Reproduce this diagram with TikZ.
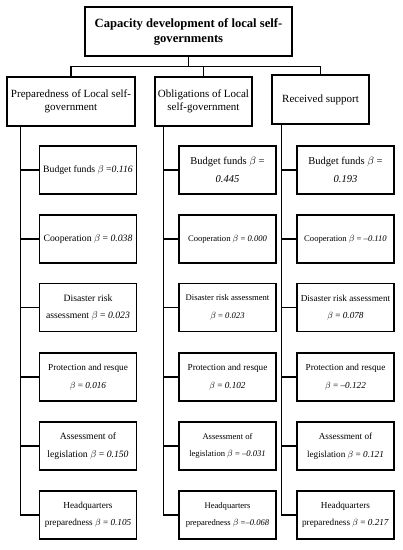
\documentclass[tikz,border=0pt]{standalone}
\usepackage{fontspec}
\setmainfont{Liberation Serif}
\begin{document}
\begin{tikzpicture}[x=1pt,y=-1pt,
  box/.style={draw,line width=1.1pt,rectangle,align=center,inner sep=1pt},
  top/.style={box,minimum width=207pt,minimum height=49pt,font=\fontsize{12.6}{15}\selectfont\bfseries},
  lvl/.style={box,minimum width=97pt,minimum height=49pt,font=\fontsize{11}{13.5}\selectfont},
  leaf/.style={box,minimum width=97pt,minimum height=48pt,font=\fontsize{9.7}{17.5}\selectfont},
  sm/.style={font=\fontsize{9.2}{17.5}\selectfont},
  xs/.style={font=\fontsize{8.6}{17.5}\selectfont},
  conn/.style={line width=1.1pt}]
\useasboundingbox (0,0) rectangle (403,550);
\newcommand{\bv}[1]{$\beta$ = \textit{#1}}
% top
\node[top] (T) at (188.5,31.5) {Capacity development of local self-\\governments};
% level 2
\node[lvl,minimum width=128pt] (A) at (71,101.5) {Preparedness of Local self-\\government};
\node[lvl] (B) at (203.5,101.5) {Obligations of Local\\self-government};
\node[lvl] (C) at (320.5,99.5) {Received support};
% column A
\node[leaf] (A1) at (88,170) {Budget funds $\beta$ =\textit{0.116}};
\node[leaf] (A2) at (88,239) {Cooperation \bv{0.038}};
\node[leaf] (A3) at (88,307.5) {Disaster risk\\assessment \bv{0.023}};
\node[leaf,sm] (A4) at (88,377) {Protection and resque\\\bv{0.016}};
\node[leaf] (A5) at (88,446) {Assessment of\\legislation \bv{0.150}};
\node[leaf,sm] (A6) at (88,515) {Headquarters\\preparedness \bv{0.105}};
% column B
\node[leaf,font=\fontsize{10.5}{18}\selectfont] (B1) at (227.5,170) {Budget funds $\beta$ =\\\textit{0.445}};
\node[leaf,xs] (B2) at (227.5,239) {Cooperation \bv{0.000}};
\node[leaf,xs] (B3) at (227.5,307.5) {Disaster risk assessment\\\bv{0.023}};
\node[leaf,sm] (B4) at (227.5,377) {Protection and resque\\\bv{0.102}};
\node[leaf,xs] (B5) at (227.5,446) {Assessment of\\legislation \bv{--0.031}};
\node[leaf,xs] (B6) at (227.5,515) {Headquarters\\preparedness $\beta$ =\textit{--0.068}};
% column C
\node[leaf,font=\fontsize{10.5}{18}\selectfont] (C1) at (345.5,170) {Budget funds $\beta$ =\\\textit{0.193}};
\node[leaf,xs] (C2) at (345.5,239) {Cooperation \bv{--0.110}};
\node[leaf,sm] (C3) at (345.5,307.5) {Disaster risk assessment\\\bv{0.078}};
\node[leaf,sm] (C4) at (345.5,377) {Protection and resque\\\bv{--0.122}};
\node[leaf,sm] (C5) at (345.5,446) {Assessment of\\legislation \bv{0.121}};
\node[leaf,sm] (C6) at (345.5,515) {Headquarters\\preparedness \bv{0.217}};
% top connectors
\coordinate (J) at ([yshift=-10pt]T.south);
\draw[conn] (T.south) -- (J);
\draw[conn] (J) -| (A.north);
\draw[conn] (J) -| (B.north);
\draw[conn] (J) -| (C.north);
% trunks
\coordinate (TA) at ([xshift=14pt]A.south west);
\coordinate (TB) at ([xshift=9pt]B.south west);
\coordinate (TC) at ([xshift=10pt]C.south west);
\foreach \i in {1,...,6}{
  \draw[conn] (TA) |- (A\i.west);
  \draw[conn] (TB) |- (B\i.west);
  \draw[conn] (TC) |- (C\i.west);
}
\end{tikzpicture}
\end{document}
